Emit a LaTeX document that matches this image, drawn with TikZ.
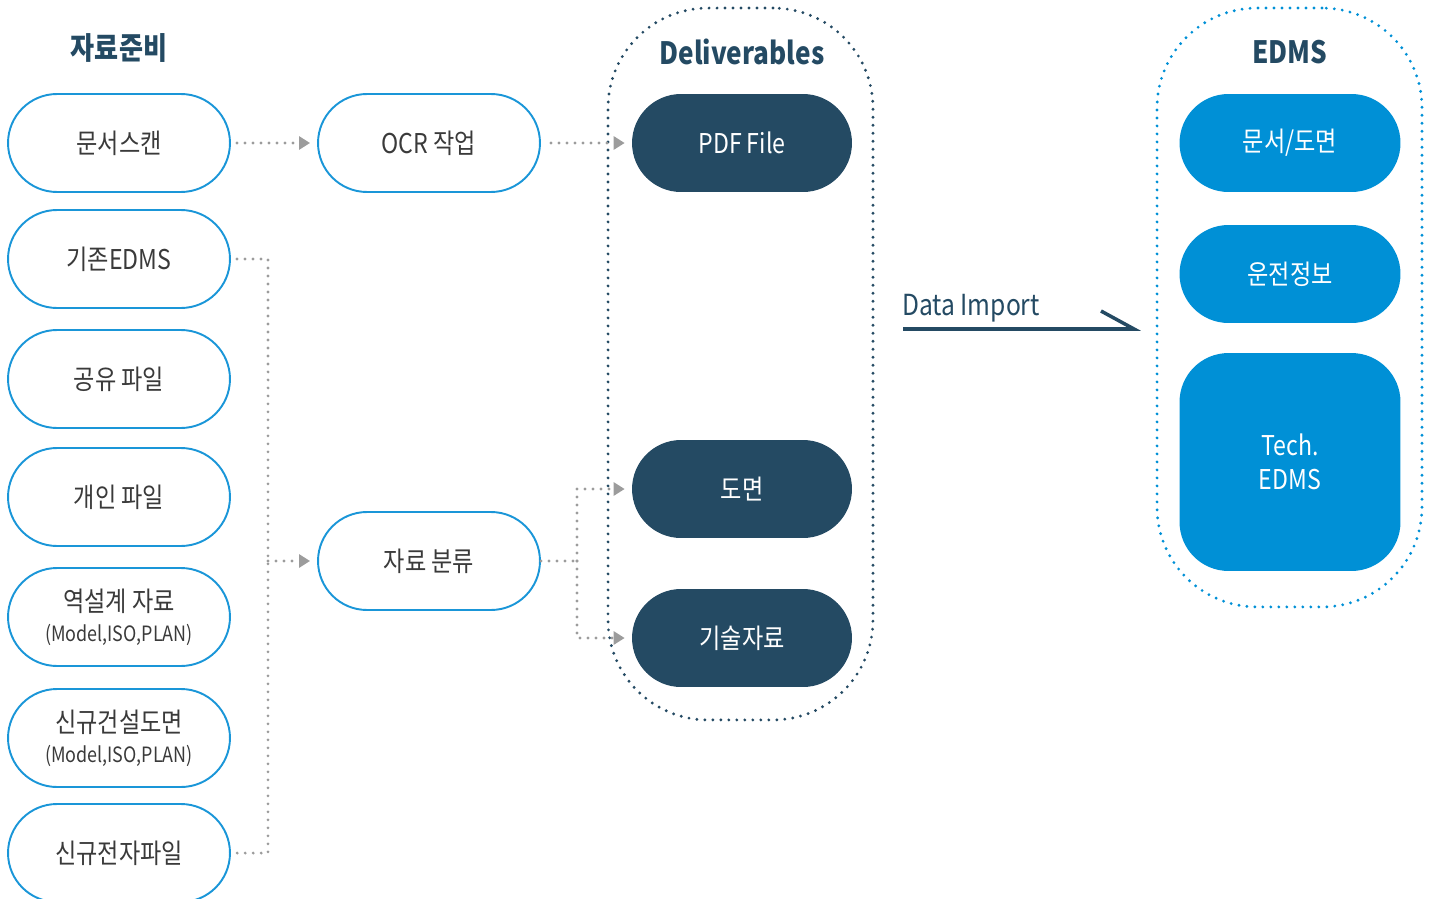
\documentclass[tikz,border=0pt]{standalone}
\usepackage{fontspec}
\setmainfont[FakeStretch=0.85]{Noto Sans CJK KR}
\usepackage{xcolor}
\usetikzlibrary{arrows.meta}

\definecolor{navy}{HTML}{244A63}
\definecolor{skyline}{HTML}{1A96D8}
\definecolor{edmsblue}{HTML}{0090D6}
\definecolor{textgray}{HTML}{3A3A3A}
\definecolor{dotgray}{HTML}{9C9C9C}
\newcommand{\subtxt}{\fontsize{12}{14}\selectfont}

\begin{document}
\begin{tikzpicture}[x=0.02cm,y=-0.02cm]
\tikzset{>={Triangle[width=2.6mm,length=2.2mm]}}
\tikzstyle{src} =[draw=skyline,line width=1.1pt,rounded corners=0.98cm,minimum width=4.44cm,minimum height=1.96cm,text=textgray,align=center,font=\fontsize{15.5}{19}\selectfont]
\tikzstyle{deliv} =[fill=navy,rounded corners=0.98cm,minimum width=4.4cm,minimum height=1.96cm,text=white,font=\fontsize{15.5}{19}\selectfont]
\tikzstyle{edms} =[fill=edmsblue,rounded corners=0.98cm,minimum width=4.42cm,minimum height=1.96cm,text=white,align=center,font=\fontsize{15.5}{19}\selectfont]
\tikzstyle{frame} =[line width=1.8pt,line cap=round,dash pattern=on 0pt off 0.16cm,rounded corners=2cm]
\tikzstyle{dotline} =[dotgray,line width=1.8pt,line cap=round,dash pattern=on 0pt off 0.16cm]
\tikzstyle{title} =[text=navy,font=\fontsize{17.5}{20}\selectfont\bfseries]

\useasboundingbox (0,0) rectangle (1434,899);

% frames
\node[frame,draw=navy,minimum width=5.3cm,minimum height=14.24cm](delbox) at (740.5,364){};
\node[frame,draw=edmsblue,minimum width=5.3cm,minimum height=11.98cm](edmsbox) at (1289.5,307.5){};

% titles
\node[title](t1) at (119,48){자료준비};
\node[title](t2) at (742,52){Deliverables};
\node[title](t3) at (1290,52){EDMS};

% sources
\node[src](scan) at (119,143){문서스캔};
\node[src](oldedms) at (119,259){기존EDMS};
\node[src](share) at (119,379){공유 파일};
\node[src](personal) at (119,497){개인 파일};
\node[src](reverse) at (119,617){역설계 자료\\[-2pt]{\subtxt(Model,ISO,PLAN)}};
\node[src](newdwg) at (119,738){신규건설도면\\[-2pt]{\subtxt(Model,ISO,PLAN)}};
\node[src](newfile) at (119,853){신규전자파일};

\node[src](ocr) at (429,143){OCR 작업};
\node[src](sort) at (429,561){자료 분류};

% deliverables
\node[deliv](pdf) at (742,143){PDF File};
\node[deliv](dwg) at (742,489){도면};
\node[deliv](tech) at (742,638){기술자료};

% edms
\node[edms](docdwg) at (1290,143){문서/도면};
\node[edms](oper) at (1290,274){운전정보};
\node[edms,minimum height=4.36cm](techedms) at (1290,462){Tech.\\EDMS};

% connectors
\coordinate (busbot) at (268,853);
\coordinate (split) at (577,561);
\draw [dotline,->,shorten <=0.12cm,shorten >=0.14cm] (scan) -- (ocr);
\draw [dotline,->,shorten <=0.2cm,shorten >=0.14cm] (ocr) -- (pdf);
\draw [dotline,shorten <=0.12cm,shorten >=0.12cm] (oldedms.east) -| (busbot) -- (newfile.east);
\draw [dotline,->,shorten >=0.14cm] (busbot |- sort) -- (sort);
\draw [dotline] (sort.east) -- (split);
\draw [dotline,->,shorten >=0.14cm] (split) |- (dwg.west);
\draw [dotline,->,shorten >=0.14cm] (split) |- (tech.west);

% data import
\coordinate (imp1) at (903,329);
\coordinate (imp2) at (1134,329);
\node[text=navy,font=\fontsize{16.5}{18}\selectfont,anchor=west](imp) at (896,308){Data Import};
\draw [navy,line width=2pt] (imp1) -- (imp2) -- ++(-33,-18);
\end{tikzpicture}
\end{document}
